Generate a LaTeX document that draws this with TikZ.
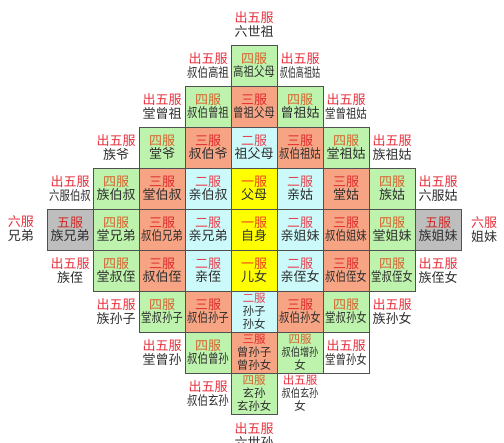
\documentclass[tikz,border=0pt]{standalone}
\usepackage{fontspec}
\usepackage{graphicx}
\setmainfont{Noto Sans CJK SC}
\definecolor{yellowC}{HTML}{FFFF00}
\definecolor{cyanC}{HTML}{CCFAFA}
\definecolor{salmonC}{HTML}{F7A484}
\definecolor{greenC}{HTML}{BEF3AE}
\definecolor{grayC}{HTML}{BEBEBE}
\definecolor{gridC}{HTML}{505050}
\definecolor{nameC}{HTML}{2E2E2E}
\definecolor{redOut}{HTML}{E8303C}
\definecolor{redA}{HTML}{EE4020}
\definecolor{redB}{HTML}{E6404E}
\definecolor{redC}{HTML}{E02A2A}
\definecolor{orangeD}{HTML}{D8602C}
\definecolor{redE}{HTML}{D02828}
\newcommand\fOut{\textcolor{redOut}{出五服}}
\newcommand\fA{\textcolor{redA}{一服}}
\newcommand\fB{\textcolor{redB}{二服}}
\newcommand\fC{\textcolor{redC}{三服}}
\newcommand\fD{\textcolor{orangeD}{四服}}
\newcommand\fE{\textcolor{redE}{五服}}
\newcommand\fF{\textcolor{redOut}{六服}}
\newcommand\nm[1]{\textcolor{nameC}{#1}}
\newcommand\nmq[1]{\textcolor{nameC}{\scalebox{0.8}[1]{#1}}}
\newcommand\nmf[1]{\textcolor{nameC}{\scalebox{0.62}[1]{#1}}}
\tikzset{
  base/.style={inner sep=0pt, minimum width=46pt, minimum height=41pt, align=center,
    font=\fontsize{13}{13.5}\selectfont},
  boxed/.style={base, draw=gridC, line width=0.8pt},
  fua/.style={boxed, fill=yellowC},
  fub/.style={boxed, fill=cyanC},
  fuc/.style={boxed, fill=salmonC},
  fud/.style={boxed, fill=greenC},
  fue/.style={boxed, fill=grayC},
  outc/.style={base},
  outb/.style={boxed, fill=white},
  three/.style={font=\fontsize{11.5}{13}\selectfont},
  lbl/.style={inner sep=0pt, align=center, font=\fontsize{13}{14}\selectfont}
}
\begin{document}
\begin{tikzpicture}[x=1pt,y=-1pt]
\useasboundingbox (0,0) rectangle (504,443);
\clip (0,0) rectangle (504,443);
\fill[white] (0,0) rectangle (504,443);
% top / bottom / sides
\node[lbl] (top) at (254,24.5) {\fOut\\\nm{六世祖}};
\node[lbl] (bottom) at (254,435.5) {\fOut\\\nm{六世孙}};
\node[lbl] (left) at (21,229) {\fF\\\nm{兄弟}};
\node[lbl] (right) at (484,230) {\fF\\\nm{姐妹}};
% row -4
\node[outc] (m1r4) at (208,65.5) {\fOut\\\nmq{叔伯高祖}};
\node[fud] (z0r4) at (254,65.5) {\fD\\\nmq{高祖父母}};
\node[outc] (p1r4) at (300,65.5) {\fOut\\\nmf{叔伯高祖姑}};
% row -3
\node[outc] (m2r3) at (162,106.5) {\fOut\\\nm{堂曾祖}};
\node[fud] (m1r3) at (208,106.5) {\fD\\\nmq{叔伯曾祖}};
\node[fuc] (z0r3) at (254,106.5) {\fC\\\nmq{曾祖父母}};
\node[fud] (p1r3) at (300,106.5) {\fD\\\nm{曾祖姑}};
\node[outc] (p2r3) at (346,106.5) {\fOut\\\nmq{堂曾祖姑}};
% row -2
\node[outc] (m3r2) at (116,147.5) {\fOut\\\nm{族爷}};
\node[fud] (m2r2) at (162,147.5) {\fD\\\nm{堂爷}};
\node[fuc] (m1r2) at (208,147.5) {\fC\\\nm{叔伯爷}};
\node[fub] (z0r2) at (254,147.5) {\fB\\\nm{祖父母}};
\node[fuc] (p1r2) at (300,147.5) {\fC\\\nmq{叔伯祖姑}};
\node[fud] (p2r2) at (346,147.5) {\fD\\\nm{堂祖姑}};
\node[outc] (p3r2) at (392,147.5) {\fOut\\\nm{族祖姑}};
% row -1
\node[outc] (m4r1) at (70,188.5) {\fOut\\\nmq{六服伯叔}};
\node[fud] (m3r1) at (116,188.5) {\fD\\\nm{族伯叔}};
\node[fuc] (m2r1) at (162,188.5) {\fC\\\nm{堂伯叔}};
\node[fub] (m1r1) at (208,188.5) {\fB\\\nm{亲伯叔}};
\node[fua] (z0r1) at (254,188.5) {\fA\\\nm{父母}};
\node[fub] (p1r1) at (300,188.5) {\fB\\\nm{亲姑}};
\node[fuc] (p2r1) at (346,188.5) {\fC\\\nm{堂姑}};
\node[fud] (p3r1) at (392,188.5) {\fD\\\nm{族姑}};
\node[outc] (p4r1) at (438,188.5) {\fOut\\\nm{六服姑}};
% row 0
\node[fue] (m4r0) at (70,229.5) {\fE\\\nm{族兄弟}};
\node[fud] (m3r0) at (116,229.5) {\fD\\\nm{堂兄弟}};
\node[fuc] (m2r0) at (162,229.5) {\fC\\\nmq{叔伯兄弟}};
\node[fub] (m1r0) at (208,229.5) {\fB\\\nm{亲兄弟}};
\node[fua] (z0r0) at (254,229.5) {\fA\\\nm{自身}};
\node[fub] (p1r0) at (300,229.5) {\fB\\\nm{亲姐妹}};
\node[fuc] (p2r0) at (346,229.5) {\fC\\\nmq{叔伯姐妹}};
\node[fud] (p3r0) at (392,229.5) {\fD\\\nm{堂姐妹}};
\node[fue] (p4r0) at (438,229.5) {\fE\\\nm{族姐妹}};
% row 1
\node[outc] (m4p1) at (70,270.5) {\fOut\\\nm{族侄}};
\node[fud] (m3p1) at (116,270.5) {\fD\\\nm{堂叔侄}};
\node[fuc] (m2p1) at (162,270.5) {\fC\\\nm{叔伯侄}};
\node[fub] (m1p1) at (208,270.5) {\fB\\\nm{亲侄}};
\node[fua] (z0p1) at (254,270.5) {\fA\\\nm{儿女}};
\node[fub] (p1p1) at (300,270.5) {\fB\\\nm{亲侄女}};
\node[fuc] (p2p1) at (346,270.5) {\fC\\\nmq{叔伯侄女}};
\node[fud] (p3p1) at (392,270.5) {\fD\\\nmq{堂叔侄女}};
\node[outc] (p4p1) at (438,270.5) {\fOut\\\nm{族侄女}};
% row 2
\node[outc] (m3p2) at (116,311.5) {\fOut\\\nm{族孙子}};
\node[fud] (m2p2) at (162,311.5) {\fD\\\nmq{堂叔孙子}};
\node[fuc] (m1p2) at (208,311.5) {\fC\\\nmq{叔伯孙子}};
\node[fub,three] (z0p2) at (254,311.5) {\fB\\\nm{孙子}\\\nm{孙女}};
\node[fuc] (p1p2) at (300,311.5) {\fC\\\nmq{叔伯孙女}};
\node[fud] (p2p2) at (346,311.5) {\fD\\\nmq{堂叔孙女}};
\node[outc] (p3p2) at (392,311.5) {\fOut\\\nm{族孙女}};
% row 3
\node[outc] (m2p3) at (162,352.5) {\fOut\\\nm{堂曾孙}};
\node[fud] (m1p3) at (208,352.5) {\fD\\\nmq{叔伯曾孙}};
\node[fuc,three] (z0p3) at (254,352.5) {\fC\\\nm{曾孙子}\\\nm{曾孙女}};
\node[fud,three] (p1p3) at (300,352.5) {\fD\\\nmq{叔伯增孙}\\\nm{女}};
\node[outb] (p2p3) at (346,352.5) {\fOut\\\nmq{堂曾孙女}};
% row 4
\node[outc] (m1p4) at (208,393.5) {\fOut\\\nmq{叔伯玄孙}};
\node[fud,three] (z0p4) at (254,393.5) {\fD\\\nm{玄孙}\\\nm{玄孙女}};
\node[outc,three] (p1p4) at (300,393.5) {\fOut\\\nmq{叔伯玄孙}\\\nm{女}};
\end{tikzpicture}
\end{document}
